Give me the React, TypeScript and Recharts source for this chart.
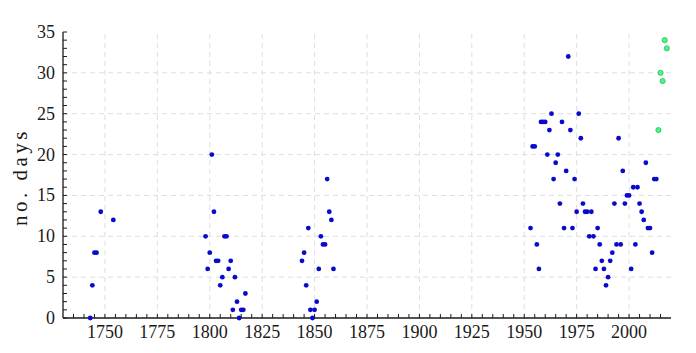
import { ScatterChart, Scatter, XAxis, YAxis, ReferenceLine } from 'recharts';

// observations per year (blue), recent years (green)
const blueYears = [
  1743, 1744, 1745, 1746, 1748, 1754,
  1798, 1799, 1800, 1801, 1802, 1803, 1804, 1805, 1806, 1807, 1808, 1809, 1810, 1811, 1812, 1813, 1814, 1815, 1816, 1817,
  1844, 1845, 1846, 1847, 1848, 1849, 1850, 1851, 1852, 1853, 1854, 1855, 1856, 1857, 1858, 1859,
  1953, 1954, 1955, 1956, 1957, 1958, 1959, 1960, 1961, 1962, 1963, 1964, 1965, 1966, 1967, 1968, 1969, 1970,
  1971, 1972, 1973, 1974, 1975, 1976, 1977, 1978, 1979, 1980, 1981, 1982, 1983, 1984, 1985, 1986, 1987, 1988,
  1989, 1990, 1991, 1992, 1993, 1994, 1995, 1996, 1997, 1998, 1999, 2000, 2001, 2002, 2003, 2004, 2005, 2006,
  2007, 2008, 2009, 2010, 2011, 2012, 2013,
];
const blueDays = [
  0, 4, 8, 8, 13, 12,
  10, 6, 8, 20, 13, 7, 7, 4, 5, 10, 10, 6, 7, 1, 5, 2, 0, 1, 1, 3,
  7, 8, 4, 11, 1, 0, 1, 2, 6, 10, 9, 9, 17, 13, 12, 6,
  11, 21, 21, 9, 6, 24, 24, 24, 20, 23, 25, 17, 19, 20, 14, 24, 11, 18,
  32, 23, 11, 17, 13, 25, 22, 14, 13, 13, 10, 13, 10, 6, 11, 9, 7, 6,
  4, 5, 7, 8, 14, 9, 22, 9, 18, 14, 15, 15, 6, 16, 9, 16, 14, 13,
  12, 19, 11, 11, 8, 17, 17,
];
const greenYears = [2014, 2015, 2016, 2017, 2018];
const greenDays = [23, 30, 29, 34, 33];

const xLabels = [1750, 1775, 1800, 1825, 1850, 1875, 1900, 1925, 1950, 1975, 2000];
const yLabels = [0, 5, 10, 15, 20, 25, 30, 35];

const xTicks: number[] = [];
for (let v = 1735; v <= 2015; v += 5) xTicks.push(v);
const yTicks: number[] = [];
for (let v = 0; v <= 35; v++) yTicks.push(v);

const blueData = blueYears.map((year, i) => ({ year, days: blueDays[i] }));
const greenData = greenYears.map((year, i) => ({ year, days: greenDays[i] }));

const SERIF = "'Liberation Serif', 'Times New Roman', serif";
const serif = { fontFamily: SERIF, fontSize: 18 };
const INK = '#1a1a1a';
const TICK = 4;
const frame = { stroke: INK, strokeWidth: 1.3 };
const grid = { stroke: '#dedede', strokeDasharray: '5 4' };

function BottomTick(props: any) {
  const { x, y, payload } = props;
  const label = xLabels.includes(payload.value);
  return (
    <g>
      <line x1={x} x2={x} y1={y} y2={y - TICK} stroke={INK} />
      {label ? (
        <text x={x} y={y + 20} textAnchor="middle" style={serif} fill={INK}>
          {payload.value}
        </text>
      ) : null}
    </g>
  );
}

function TopTick(props: any) {
  const { x, y } = props;
  return <line x1={x} x2={x} y1={y} y2={y + TICK} stroke={INK} />;
}

function LeftTick(props: any) {
  const { x, y, payload } = props;
  const label = yLabels.includes(payload.value);
  return (
    <g>
      <line x1={x} x2={x + TICK} y1={y} y2={y} stroke={INK} />
      {label ? (
        <text x={x - 8} y={y + 6} textAnchor="end" style={serif} fill={INK}>
          {payload.value}
        </text>
      ) : null}
    </g>
  );
}

function RightTick(props: any) {
  const { x, y } = props;
  return <line x1={x} x2={x - TICK} y1={y} y2={y} stroke={INK} />;
}

function YTitle(props: any) {
  const vb = props.viewBox || { x: 0, y: 32, width: 63, height: 286 };
  const cx = vb.x + 20;
  const cy = vb.y + vb.height / 2 + 2;
  return (
    <text
      x={cx}
      y={cy}
      transform={`rotate(-90 ${cx} ${cy})`}
      textAnchor="middle"
      dominantBaseline="central"
      style={{ fontFamily: SERIF, fontSize: 21, letterSpacing: 3.5 }}
      fill={INK}
    >
      no. days
    </text>
  );
}

export default function App() {
  return (
    <div style={{ position: 'absolute', left: 0, top: 0, background: '#fff' }}>
      <ScatterChart width={696} height={353} margin={{ top: 32, right: 25, bottom: 0, left: 0 }}>
        <XAxis
          xAxisId="t"
          orientation="top"
          type="number"
          dataKey="year"
          domain={[1730, 2020]}
          ticks={xTicks}
          interval={0}
          height={0}
          tickSize={0}
          tickMargin={0}
          tickLine={false}
          axisLine={frame}
          tick={TopTick}
        />
        <XAxis
          xAxisId="b"
          orientation="bottom"
          type="number"
          dataKey="year"
          domain={[1730, 2020]}
          ticks={xTicks}
          interval={0}
          height={35}
          tickSize={0}
          tickMargin={0}
          tickLine={false}
          axisLine={frame}
          tick={BottomTick}
        />
        <YAxis
          yAxisId="l"
          orientation="left"
          type="number"
          dataKey="days"
          domain={[0, 35]}
          ticks={yTicks}
          interval={0}
          width={63}
          tickSize={0}
          tickMargin={0}
          tickLine={false}
          axisLine={frame}
          tick={LeftTick}
          label={{ content: YTitle }}
        />
        <YAxis
          yAxisId="r"
          orientation="right"
          type="number"
          dataKey="days"
          domain={[0, 35]}
          ticks={yTicks}
          interval={0}
          width={0}
          tickSize={0}
          tickMargin={0}
          tickLine={false}
          axisLine={frame}
          tick={RightTick}
        />
        {xLabels.map((v) => (
          <ReferenceLine key={`gx${v}`} x={v} xAxisId="b" yAxisId="l" {...grid} />
        ))}
        {yLabels.slice(1, -1).map((v) => (
          <ReferenceLine key={`gy${v}`} y={v} xAxisId="b" yAxisId="l" {...grid} />
        ))}
        <Scatter
          data={blueData}
          xAxisId="b"
          yAxisId="l"
          isAnimationActive={false}
          shape={(p: any) => <circle cx={p.cx} cy={p.cy} r={2.4} fill="#0a0acc" />}
        />
        <Scatter
          data={greenData}
          xAxisId="b"
          yAxisId="l"
          isAnimationActive={false}
          shape={(p: any) => <circle cx={p.cx} cy={p.cy} r={2.6} fill="#50f08c" stroke="#22c45c" strokeWidth={0.8} />}
        />
      </ScatterChart>
    </div>
  );
}
